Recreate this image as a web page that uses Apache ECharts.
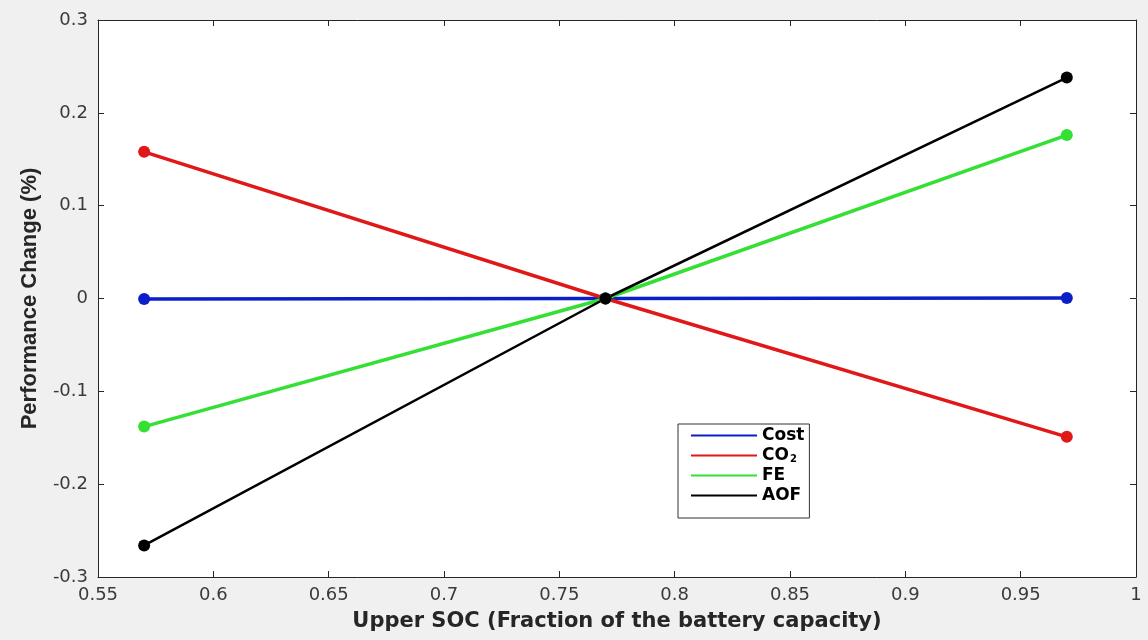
<!DOCTYPE html>
<html>
<head>
<meta charset="utf-8">
<script src="https://cdn.jsdelivr.net/npm/echarts@6/dist/echarts.min.js"></script>
<style>
html,body{margin:0;padding:0;background:#f0f0f0;}
#c{width:1148px;height:640px;}
</style>
</head>
<body>
<div id="c"></div>
<script>
const xValues = [0.57, 0.77, 0.97];
const costValues = [-0.0005, 0, 0.0005];
const co2Values = [0.158, 0, -0.149];
const feValues = [-0.138, 0, 0.176];
const aofValues = [-0.266, 0, 0.238];
const xTicks = [0.55, 0.6, 0.65, 0.7, 0.75, 0.8, 0.85, 0.9, 0.95, 1];
const yTicks = [-0.3, -0.2, -0.1, 0, 0.1, 0.2, 0.3];

const seriesDefs = [
  {name: 'Cost', data: costValues, color: '#0b1fc8', width: 3.5},
  {name: 'CO2', data: co2Values, color: '#e01818', width: 3.5},
  {name: 'FE', data: feValues, color: '#33e033', width: 3.5},
  {name: 'AOF', data: aofValues, color: '#000000', width: 2.5}
];

const chart = echarts.init(document.getElementById('c'));
const axisColor = '#262626';
const wide = 'DejaVu Sans, sans-serif';
const narrow = 'Liberation Sans, Arial, sans-serif';

function fmt(v){ return String(Math.round(v*100)/100); }

const tickStyle = {show: true, inside: true, length: 6, lineStyle: {color: axisColor}};
const lineStyle = {show: true, onZero: false, lineStyle: {color: axisColor, width: 1}};

chart.setOption({
  backgroundColor: '#f0f0f0',
  animation: false,
  grid: {left: 98, right: 12, top: 20, bottom: 63, show: true, backgroundColor: '#ffffff', borderWidth: 0},
  xAxis: [{
    type: 'value', min: 0.55, max: 1, interval: 0.05,
    name: 'Upper SOC (Fraction of the battery capacity)',
    nameLocation: 'middle', nameGap: 34,
    nameTextStyle: {fontFamily: wide, fontWeight: 'bold', fontSize: 21, color: '#262626'},
    axisLine: lineStyle,
    axisTick: tickStyle,
    axisLabel: {fontFamily: wide, fontSize: 18, color: '#3a3a3a', margin: 9, formatter: fmt},
    splitLine: {show: false}
  }, {
    type: 'value', min: 0.55, max: 1, interval: 0.05, position: 'top',
    axisLine: lineStyle, axisTick: tickStyle,
    axisLabel: {show: false}, splitLine: {show: false}
  }],
  yAxis: [{
    type: 'value', min: -0.3, max: 0.3, interval: 0.1,
    name: 'Performance Change (%)',
    nameLocation: 'middle', nameGap: 57,
    nameTextStyle: {fontFamily: narrow, fontWeight: 'bold', fontSize: 22, color: '#262626'},
    axisLine: lineStyle,
    axisTick: tickStyle,
    axisLabel: {fontFamily: wide, fontSize: 18, color: '#3a3a3a', margin: 10, formatter: fmt},
    splitLine: {show: false}
  }, {
    type: 'value', min: -0.3, max: 0.3, interval: 0.1, position: 'right',
    axisLine: lineStyle, axisTick: tickStyle,
    axisLabel: {show: false}, splitLine: {show: false}
  }],
  legend: {
    left: 678, top: 424,
    orient: 'vertical',
    itemGap: 3,
    itemWidth: 66, itemHeight: 2,
    backgroundColor: '#ffffff',
    borderColor: '#333333', borderWidth: 1, borderRadius: 0,
    padding: [3, 5, 14, 13],
    textStyle: {
      fontFamily: wide, fontWeight: 'bold', fontSize: 17, color: '#000',
      rich: {
        n: {fontFamily: wide, fontWeight: 'bold', fontSize: 17, lineHeight: 17, color: '#000'},
        s: {fontFamily: wide, fontWeight: 'bold', fontSize: 10, lineHeight: 8, color: '#000', verticalAlign: 'bottom', padding: [0, 0, 0, 1]}
      }
    },
    formatter: function(name){
      if (name === 'CO2') return '{n|CO}{s|2}';
      return '{n|' + name + '}';
    },
    data: seriesDefs.map(s => ({name: s.name, icon: 'rect', itemStyle: {color: s.color}}))
  },
  series: seriesDefs.map(s => ({
    name: s.name,
    type: 'line',
    data: xValues.map((x, i) => [x, s.data[i]]),
    symbol: 'circle', symbolSize: 12,
    lineStyle: {color: s.color, width: s.width},
    itemStyle: {color: s.color},
    z: 3
  }))
});
</script>
</body>
</html>
